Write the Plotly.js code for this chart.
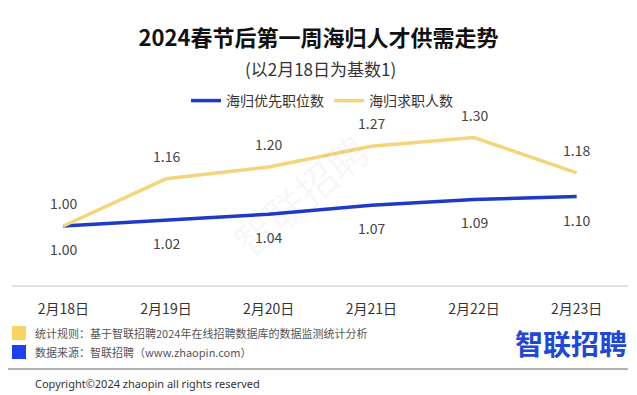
<!DOCTYPE html>
<html><head><meta charset="utf-8">
<script src="https://cdn.plot.ly/plotly-3.0.1.min.js"></script>
<style>body{margin:0;background:#fff}#c{width:637px;height:395px}</style>
</head><body><div id="c"></div>
<script>
const categories = ["2月18日","2月19日","2月20日","2月21日","2月22日","2月23日"];
const seriesNames = ["海归优先职位数","海归求职人数"];
const jobs = [1.00,1.02,1.04,1.07,1.09,1.10];
const seekers = [1.00,1.16,1.20,1.27,1.30,1.18];

const W=637,H=395,L=12,R=9,T=120,B=110;
const PW=W-L-R, PH=H-T-B;
const px = x => (x-L)/PW;
const py = y => (H-B-y)/PH;
const FONT = '"Noto Sans CJK SC", "Noto Sans", sans-serif';
const BLUE = '#1d3bc6', YEL = '#f3d57c';

const traces = [
  {x:categories,y:jobs,name:seriesNames[0],type:'scatter',mode:'lines',line:{color:BLUE,width:3.5}},
  {x:categories,y:seekers,name:seriesNames[1],type:'scatter',mode:'lines',line:{color:YEL,width:3.5}}
];
const ann = [];
seekers.forEach((v,i)=>ann.push({x:categories[i],y:v,xref:'x',yref:'y',text:v.toFixed(2),showarrow:false,yanchor:'middle',yshift:23,font:{family:FONT,size:14,color:'#444'}}));
jobs.forEach((v,i)=>ann.push({x:categories[i],y:v,xref:'x',yref:'y',text:v.toFixed(2),showarrow:false,yanchor:'middle',yshift:-23,font:{family:FONT,size:14,color:'#444'}}));
const P = (x,y,text,font,extra) => Object.assign({xref:'paper',yref:'paper',x:px(x),y:py(y),text:text,showarrow:false,yanchor:'middle',font:font},extra||{});
ann.push(P(320,68,'(以2月18日为基数1)',{family:FONT,size:17,color:'#333'}));
ann.push(P(300,195,'智联招聘',{family:FONT,size:40,color:'rgba(0,0,0,0.05)'},{textangle:-40}));
ann.push(P(33,333,'统计规则：基于智联招聘2024年在线招聘数据库的数据监测统计分析',{family:FONT,size:11,color:'#555'},{xanchor:'left'}));
ann.push(P(33,352,'数据来源：智联招聘（www.zhaopin.com）',{family:FONT,size:11,color:'#555'},{xanchor:'left'}));
ann.push(P(629,343,'<b>智联招聘</b>',{family:FONT,size:28,color:'#2147d6'},{xanchor:'right'}));
ann.push(P(33,383,'Copyright©2024 zhaopin all rights reserved',{family:'"Liberation Sans Narrow", "Noto Sans", sans-serif',size:11,color:'#333'},{xanchor:'left'}));

const shapes = [
  {type:'rect',xref:'paper',yref:'paper',x0:px(12),x1:px(26),y0:py(340),y1:py(326),fillcolor:'#f8d466',line:{width:0}},
  {type:'rect',xref:'paper',yref:'paper',x0:px(12),x1:px(26),y0:py(359),y1:py(345),fillcolor:'#1f40ee',line:{width:0}},
  {type:'line',xref:'paper',yref:'paper',x0:px(8),x1:px(628),y0:py(369),y1:py(369),line:{color:'#999',width:1.5}}
];

const layout = {
  width:W,height:H,margin:{l:L,r:R,t:T,b:B},
  paper_bgcolor:'#fff',plot_bgcolor:'#fff',
  title:{text:'<b>2024春节后第一周海归人才供需走势</b>',x:0.5,xanchor:'center',y:1-38/H,yanchor:'middle',font:{family:FONT,size:22,color:'#111'}},
  showlegend:true,
  legend:{orientation:'h',x:px(322),xanchor:'center',y:py(101),yanchor:'middle',font:{family:FONT,size:14,color:'#333'},bgcolor:'rgba(0,0,0,0)'},
  xaxis:{type:'category',range:[-0.5,5.5],showgrid:false,zeroline:false,showline:true,linecolor:'#e2e2e2',linewidth:2,ticks:'outside',ticklen:10,tickcolor:'rgba(0,0,0,0)',tickfont:{family:FONT,size:14,color:'#333'},fixedrange:true},
  yaxis:{range:[0.8,0.8+PH/295],visible:false,fixedrange:true},
  annotations:ann,shapes:shapes
};
Plotly.newPlot('c',traces,layout,{displayModeBar:false,staticPlot:true});
</script></body></html>
